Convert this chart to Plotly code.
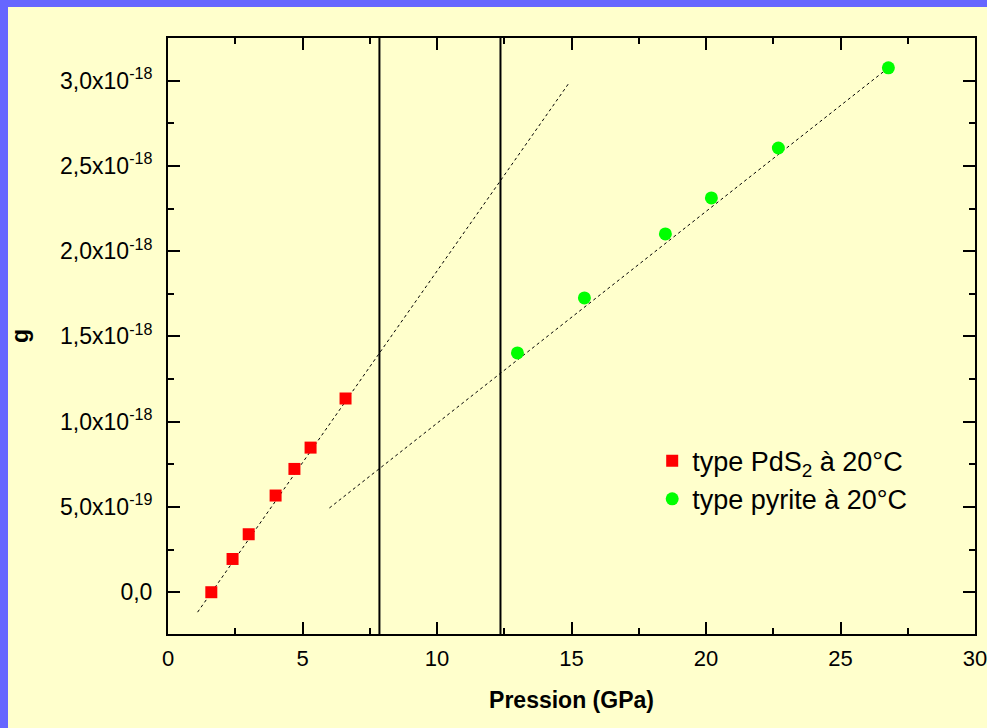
import plotly.graph_objects as go

# ---- data ----
pds2_p = [1.61, 2.40, 3.00, 4.00, 4.70, 5.30, 6.60]
pds2_g = [0.0, 0.195e-18, 0.340e-18, 0.567e-18, 0.723e-18, 0.848e-18, 1.136e-18]

pyrite_p = [12.99, 15.48, 18.49, 20.20, 22.69, 26.78]
pyrite_g = [1.403e-18, 1.726e-18, 2.101e-18, 2.312e-18, 2.605e-18, 3.075e-18]

pds2_fit_p = [1.10, 14.88]
pds2_fit_g = [-0.117e-18, 2.98e-18]
pyrite_fit_p = [6.0, 26.78]
pyrite_fit_g = [0.494e-18, 3.075e-18]

boundaries = [7.86, 12.36]

y_tickvals = [0.0, 0.5e-18, 1.0e-18, 1.5e-18, 2.0e-18, 2.5e-18, 3.0e-18]
y_ticktext = ["0,0", "5,0x10<sup>-19</sup>", "1,0x10<sup>-18</sup>", "1,5x10<sup>-18</sup>",
              "2,0x10<sup>-18</sup>", "2,5x10<sup>-18</sup>", "3,0x10<sup>-18</sup>"]

YELLOW = "#FFFFCC"
BLUE = "#6666FF"
FONT = "Liberation Sans, Arial, sans-serif"

fig = go.Figure()

# fit lines (dotted)
fig.add_trace(go.Scatter(x=pds2_fit_p, y=pds2_fit_g, mode="lines",
                         line=dict(color="black", width=1, dash="dot"),
                         showlegend=False, hoverinfo="skip"))
fig.add_trace(go.Scatter(x=pyrite_fit_p, y=pyrite_fit_g, mode="lines",
                         line=dict(color="black", width=1, dash="dot"),
                         showlegend=False, hoverinfo="skip"))

fig.add_trace(go.Scatter(x=pds2_p, y=pds2_g, mode="markers",
                         name="type PdS<sub>2</sub> à 20°C",
                         marker=dict(symbol="square", size=12, color="#FF0000", line=dict(width=0))))
fig.add_trace(go.Scatter(x=pyrite_p, y=pyrite_g, mode="markers",
                         name="type pyrite à 20°C",
                         marker=dict(symbol="circle", size=13, color="#00FF00", line=dict(width=0))))

for b in boundaries:
    fig.add_vline(x=b, line=dict(color="black", width=2))

L, R, T, B = 168, 12, 38, 94
W, H = 987, 728
pw, ph = W - L - R, H - T - B

# blue frame on left and top of the picture
fig.add_shape(type="rect", xref="paper", yref="paper", layer="below",
              x0=-L / pw, x1=(8 - L) / pw, y0=-B / ph, y1=1 + T / ph,
              fillcolor=BLUE, line=dict(width=0))
fig.add_shape(type="rect", xref="paper", yref="paper", layer="below",
              x0=-L / pw, x1=1 + R / pw, y0=1 + (T - 7) / ph, y1=1 + T / ph,
              fillcolor=BLUE, line=dict(width=0))

axis_common = dict(showline=True, linecolor="black", linewidth=2, mirror="allticks",
                   ticks="inside", ticklen=12, tickwidth=2, tickcolor="black",
                   showgrid=False, zeroline=False, automargin=False,
                   ticklabeloverflow="allow")

fig.update_xaxes(range=[0, 30], tick0=0, dtick=5, ticklabelstandoff=4,
                 tickfont=dict(family=FONT, size=22, color="black"),
                 minor=dict(ticks="inside", ticklen=6, tickwidth=2, tickcolor="black", dtick=2.5, tick0=0),
                 title=dict(text="<b>Pression (GPa)</b>", font=dict(family=FONT, size=23, color="black"),
                            standoff=21),
                 **axis_common)
fig.update_yaxes(range=[-0.245e-18, 3.25e-18], tickmode="array", tickvals=y_tickvals, ticktext=y_ticktext,
                 ticklabelstandoff=9,
                 tickfont=dict(family=FONT, size=23, color="black"),
                 minor=dict(ticks="inside", ticklen=6, tickwidth=2, tickcolor="black", dtick=0.25e-18, tick0=0),
                 title=dict(text="<b>g</b>", font=dict(family=FONT, size=23, color="black"), standoff=25),
                 **axis_common)

fig.update_layout(
    width=W, height=H,
    margin=dict(l=L, r=R, t=T, b=B, pad=0, autoexpand=False),
    paper_bgcolor=YELLOW, plot_bgcolor=YELLOW,
    font=dict(family=FONT, color="black"),
    legend=dict(x=0.600, y=0.331, xanchor="left", yanchor="top",
                bgcolor="rgba(0,0,0,0)", borderwidth=0,
                font=dict(family=FONT, size=27, color="black"),
                tracegroupgap=0),
)

fig.write_html("out.html", config={"displayModeBar": False},
               post_script="document.body.style.margin='0';document.body.style.overflow='hidden';")
